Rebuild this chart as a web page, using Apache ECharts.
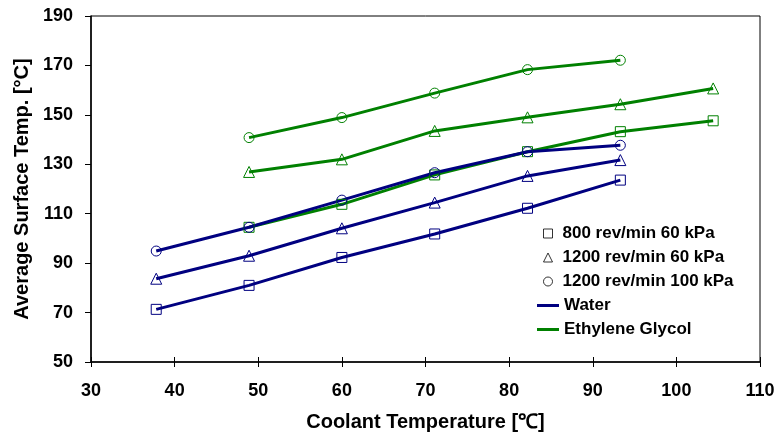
<!DOCTYPE html>
<html><head><meta charset="utf-8">
<script src="https://cdn.jsdelivr.net/npm/echarts@6/dist/echarts.min.js"></script>
<style>html,body{margin:0;padding:0;background:#fff}#c{width:779px;height:437px}</style>
</head><body><div id="c"></div>
<script>
const xTemps = [37.8, 48.9, 60, 71.1, 82.2, 93.3, 104.4];
const water800_60 = [71.3, 81, 92.3, 101.8, 112.2, 123.6];
const water1200_60 = [83.7, 93, 104.1, 114.5, 125.3, 131.7];
const water1200_100 = [94.9, 104.5, 115.5, 126.6, 135.1, 137.7];
const eg800_60 = [104.5, 113.8, 125.7, 135.1, 143.2, 147.6];
const eg1200_60 = [126.9, 132, 143.5, 149, 154.3, 160.7];
const eg1200_100 = [140.8, 148.9, 158.8, 168.3, 172.1];
const legendNames = ['800 rev/min 60 kPa', '1200 rev/min 60 kPa', '1200 rev/min 100 kPa', 'Water', 'Ethylene Glycol'];
const xTicks = [30, 40, 50, 60, 70, 80, 90, 100, 110];
const yTicks = [50, 70, 90, 110, 130, 150, 170, 190];

const NAVY = '#000080', GREEN = '#008000';
const FONT = 'Liberation Sans';

function pairs(xs, ys) { return ys.map((v, i) => [xs[i], v]); }
function dataSeries(name, xs, ys, color, symbol) {
  return {
    name: name, type: 'line', data: pairs(xs, ys),
    symbol: symbol, symbolSize: symbol === 'triangle' ? 11 : 10,
    showAllSymbol: true,
    lineStyle: { color: color, width: 3 },
    itemStyle: { color: 'rgba(0,0,0,0)', borderColor: color, borderWidth: 1 },
    emphasis: { disabled: true }, animation: false, z: 3
  };
}
const egX = xTemps.slice(1);
const hollow = { color: 'rgba(0,0,0,0)', borderColor: '#000', borderWidth: 1 };
const series = [
  dataSeries('eg_c', egX, eg1200_100, GREEN, 'circle'),
  dataSeries('eg_t', egX, eg1200_60, GREEN, 'triangle'),
  dataSeries('eg_s', egX, eg800_60, GREEN, 'rect'),
  dataSeries('w_c', xTemps, water1200_100, NAVY, 'circle'),
  dataSeries('w_t', xTemps, water1200_60, NAVY, 'triangle'),
  dataSeries('w_s', xTemps, water800_60, NAVY, 'rect'),
  { name: legendNames[0], type: 'scatter', data: [], symbol: 'rect', itemStyle: hollow },
  { name: legendNames[1], type: 'scatter', data: [], symbol: 'triangle', itemStyle: hollow },
  { name: legendNames[2], type: 'scatter', data: [], symbol: 'circle', itemStyle: hollow },
  { name: legendNames[3], type: 'line', data: [], symbol: 'none', lineStyle: { color: NAVY, width: 3 }, itemStyle: { color: NAVY } },
  { name: legendNames[4], type: 'line', data: [], symbol: 'none', lineStyle: { color: GREEN, width: 3 }, itemStyle: { color: GREEN } }
];

function legendText(pad) {
  return {
    fontFamily: FONT, fontWeight: 'bold', fontSize: 17, color: '#000',
    rich: { t: { fontFamily: FONT, fontWeight: 'bold', fontSize: 17, color: '#000', padding: [0, 0, 0, pad] } }
  };
}
const chart = echarts.init(document.getElementById('c'), null, { renderer: 'canvas' });
chart.setOption({
  animation: false,
  textStyle: { fontFamily: FONT },
  grid: { left: 91, right: 19, top: 16, bottom: 75, show: true, borderColor: '#000', borderWidth: 1, backgroundColor: 'transparent' },
  legend: [{
    data: [
      { name: legendNames[0], icon: 'rect', itemStyle: hollow },
      { name: legendNames[1], icon: 'triangle', itemStyle: hollow },
      { name: legendNames[2], icon: 'circle', itemStyle: hollow }
    ],
    orient: 'vertical', left: 543, top: 225,
    itemWidth: 9, itemHeight: 9, itemGap: 7, padding: 0,
    selectedMode: false,
    formatter: n => '{t|' + n + '}',
    textStyle: legendText(5)
  }, {
    data: [
      { name: legendNames[3], icon: 'rect' },
      { name: legendNames[4], icon: 'rect' }
    ],
    orient: 'vertical', left: 537, top: 297,
    itemWidth: 22, itemHeight: 3, itemGap: 7, padding: 0,
    selectedMode: false,
    formatter: n => '{t|' + n + '}',
    textStyle: legendText(0)
  }],
  xAxis: [{
    type: 'value', min: xTicks[0], max: xTicks[xTicks.length - 1], interval: 10,
    name: 'Coolant Temperature [℃]', nameLocation: 'middle', nameGap: 50,
    nameTextStyle: { fontFamily: FONT, fontWeight: 'bold', fontSize: 20, color: '#000' },
    axisLine: { show: true, lineStyle: { color: '#000', width: 1.5 } },
    axisTick: { show: true, length: 5, lineStyle: { color: '#000', width: 1 } },
    axisLabel: { fontFamily: FONT, fontWeight: 'bold', fontSize: 18, color: '#000', margin: 20 },
    splitLine: { show: false }
  }, {
    type: 'value', min: xTicks[0], max: xTicks[xTicks.length - 1], interval: 10, position: 'bottom',
    axisLine: { show: false },
    axisTick: { show: true, inside: true, length: 5, lineStyle: { color: '#000', width: 1 } },
    axisLabel: { show: false }, splitLine: { show: false }
  }],
  yAxis: {
    type: 'value', min: yTicks[0], max: yTicks[yTicks.length - 1], interval: 20,
    name: 'Average Surface Temp. [°C]', nameLocation: 'middle', nameGap: 56, nameRotate: 90,
    nameTextStyle: { fontFamily: FONT, fontWeight: 'bold', fontSize: 20, color: '#000' },
    axisLine: { show: true, lineStyle: { color: '#000', width: 1.5 } },
    axisTick: { show: true, length: 6, lineStyle: { color: '#000', width: 1 } },
    axisLabel: { fontFamily: FONT, fontWeight: 'bold', fontSize: 18, color: '#000', margin: 18 },
    splitLine: { show: false }
  },
  series: series
});
</script></body></html>
